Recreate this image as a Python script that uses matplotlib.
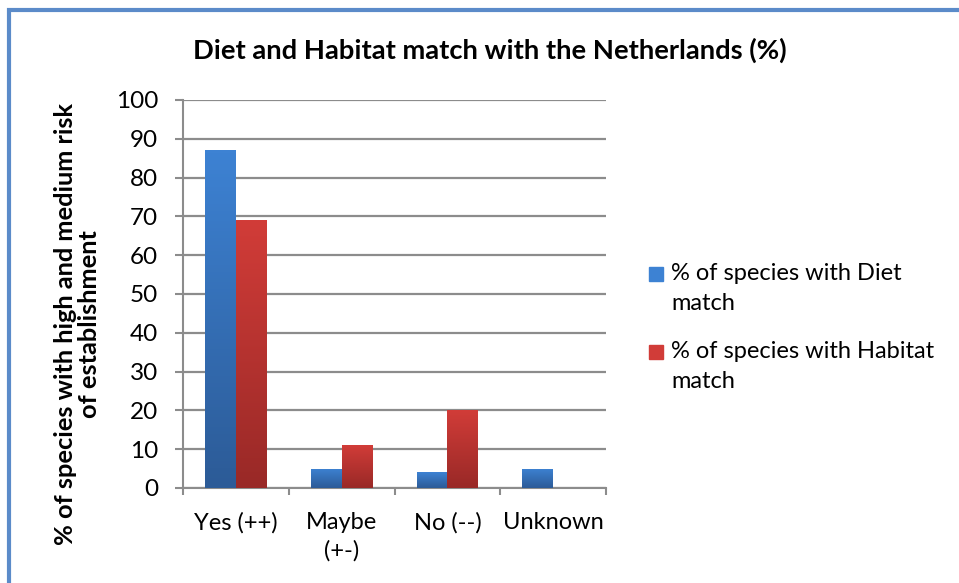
import numpy as np
import matplotlib
matplotlib.use("Agg")
import matplotlib.pyplot as plt
from matplotlib.colors import LinearSegmentedColormap
from matplotlib.patches import Rectangle

plt.rcParams['font.family'] = ['Lato', 'DejaVu Sans']

categories = ['Yes (++)', 'Maybe\n(+-)', 'No (--)', 'Unknown']
diet = [87, 5, 4, 5]
habitat = [69, 11, 20, 0]
series_names = ['% of species with Diet\nmatch', '% of species with Habitat\nmatch']

blue = ('#3d82d3', '#2c5b97')
red = ('#d13c38', '#992927')

W, H = 959, 583
fig = plt.figure(figsize=(W / 100, H / 100), dpi=100)
ax = fig.add_axes([183 / W, 1 - 488 / H, 423 / W, 388 / H])

# blue frame around the chart area
fig.patches.append(Rectangle((9 / W, -0.05), 1.2, 1 - 10 / H + 0.05,
                             transform=fig.transFigure, fill=False,
                             edgecolor='#5b8bc9', linewidth=3))

x = np.arange(len(categories))
w = 0.29


def grad_bars(xs, vals, cols, label):
    bars = ax.bar(xs, vals, w, color=cols[0], label=label, zorder=3,
                  linewidth=0)
    cmap = LinearSegmentedColormap.from_list('g', [cols[1], cols[0]])
    for b in bars:
        h = b.get_height()
        if h <= 0:
            continue
        bx = b.get_x()
        im = ax.imshow(np.linspace(0, 1, 100).reshape(-1, 1), cmap=cmap,
                       extent=[bx, bx + w, 0, h], origin='lower',
                       aspect='auto', zorder=3.5)
        im.set_clip_path(b)
    return bars


grad_bars(x - w / 2, diet, blue, series_names[0])
grad_bars(x + w / 2, habitat, red, series_names[1])

ax.set_xlim(-0.5, len(categories) - 0.5)
ax.set_ylim(0, 100)
ax.set_yticks(range(0, 101, 10))
ax.yaxis.grid(True, color='#8c8c8c', linewidth=1.6, zorder=0)
ax.set_axisbelow(True)

ax.set_xticks(x)
ax.set_xticklabels(categories, fontsize=17, linespacing=1.45)
ax.set_xticks(np.arange(-0.5, len(categories)), minor=True)
ax.tick_params(axis='x', which='major', length=0, pad=17)
ax.tick_params(axis='x', which='minor', length=5, color='#8c8c8c', width=1.5)
ax.tick_params(axis='y', length=6, color='#8c8c8c', width=1.5, labelsize=17.5,
               pad=12)

for s in ['top', 'right']:
    ax.spines[s].set_visible(False)
for s in ['left', 'bottom']:
    ax.spines[s].set_color('#8c8c8c')
    ax.spines[s].set_linewidth(1.5)

ax.set_ylabel('% of species with high and medium risk\nof establishment',
              fontsize=18.3, fontweight='bold', linespacing=1.05)
ax.yaxis.set_label_coords((101 - 183) / 423, (488 - 324) / 388)

fig.text(0.511, 0.913, 'Diet and Habitat match with the Netherlands (%)',
         ha='center', va='center', fontsize=19.7, fontweight='bold')

# legend, drawn by hand so the swatch sits on the first text line
for i, (name, col) in enumerate(zip(series_names, [blue, red])):
    yc = 274 + i * 78
    fig.patches.append(Rectangle((649 / W, 1 - (yc + 7) / H), 14 / W, 14 / H,
                                 transform=fig.transFigure, color=col[0]))
    fig.text(671 / W, 1 - (yc - 11) / H, name, ha='left', va='top',
             fontsize=17, linespacing=1.55)

fig.savefig('out.png', dpi=100)
